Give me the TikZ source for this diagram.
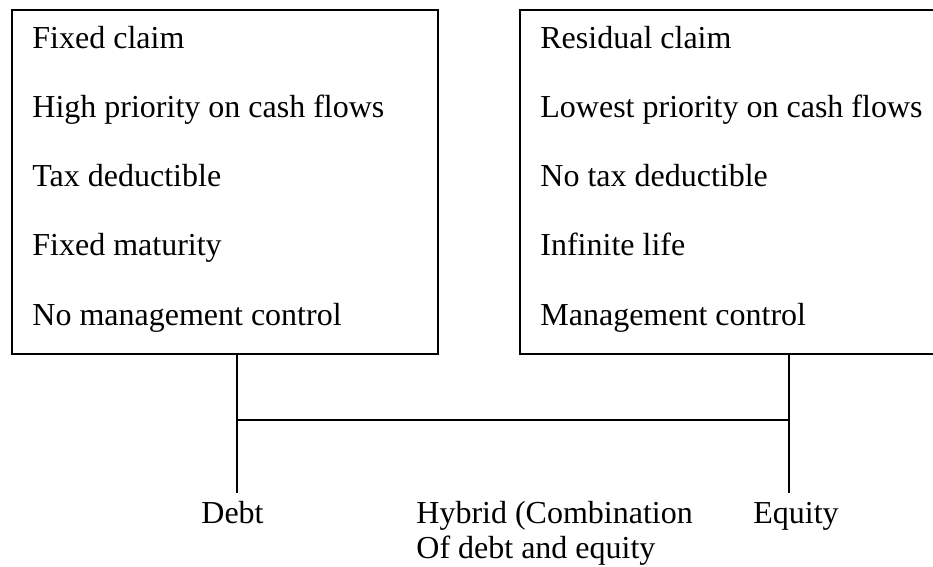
\documentclass[tikz,border=0pt]{standalone}
\usepackage{fontspec}
\setmainfont{Liberation Serif}
\usetikzlibrary{positioning}

\begin{document}
\begin{tikzpicture}[x=0.5pt, y=-0.5pt,
    box/.style={draw, line width=0.9pt, anchor=north west, inner sep=0pt,
                minimum height=172pt},
    item/.style={anchor=base west, inner sep=0pt,
                 font=\fontsize{16}{17.5}\selectfont},
    link/.style={line width=0.8pt}]
  \useasboundingbox (0,0) rectangle (933,567);
  \clip (0,0) rectangle (933,567);
  % the two boxes
  \node[box, minimum width=213pt] (debtbox)   at (11,9)  {};
  \node[box, minimum width=240pt] (equitybox) at (519,9) {};
  % what each one stands for
  \foreach \txt [count=\i] in {Fixed claim, High priority on cash flows,
      Tax deductible, Fixed maturity, No management control}
    \node[item] (debt\i) at (32,{49+69*(\i-1)}) {\txt};
  \foreach \txt [count=\i] in {Residual claim, Lowest priority on cash flows,
      No tax deductible, Infinite life, Management control}
    \node[item] (equity\i) at (540,{49+69*(\i-1)}) {\txt};
  % labels below
  \node[item] (debt)    at (201,523) {Debt};
  \node[item] (hybrid)  at (416,523) {Hybrid (Combination};
  \node[item] (hybridb) at (416,558) {Of debt and equity};
  \node[item] (equity)  at (753,523) {Equity};
  % legs and bar
  \coordinate (dleg) at (237,493);
  \coordinate (eleg) at (789,493);
  \coordinate (bar)  at (237,420);
  \draw[link] (debtbox.south -| dleg) -- (dleg);
  \draw[link] (equitybox.south -| eleg) -- (eleg);
  \draw[link] (bar) -- (bar -| eleg);
\end{tikzpicture}
\end{document}
